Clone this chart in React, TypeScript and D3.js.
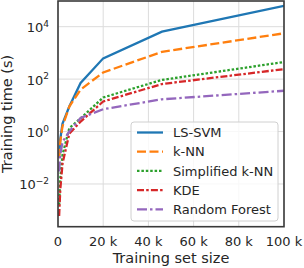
import React, { useEffect, useRef } from 'react';
import * as d3 from 'd3';

const sizes = [500, 1000, 2000, 5000, 10000, 20000, 46000, 100000];
const lsSvm = [0.1, 0.5, 2, 9, 71, 620, 6500, 62000];
const knn = [0.1, 0.4, 1.6, 9, 40, 180, 1100, 5600];
const simplifiedKnn = [0.0016, 0.016, 0.13, 1.35, 3.2, 20, 93, 450];
const kde = [0.0006, 0.006, 0.06, 0.83, 2.4, 14, 65, 240];
const randomForest = [0.03, 0.13, 0.4, 1.0, 3.3, 7.1, 17, 36];

const seriesNames = ['LS-SVM', 'k-NN', 'Simplified k-NN', 'KDE', 'Random Forest'];
const xTicks = [0, 20000, 40000, 60000, 80000, 100000];
const xTickLabels = ['0', '20 k', '40 k', '60 k', '80 k', '100 k'];
const yTicks = [1e-2, 1, 1e2, 1e4];
const yTickExps = ['\u22122', '0', '2', '4'];

const colors = ['#1f77b4', '#ff7f0e', '#2ca02c', '#d62728', '#9467bd'];
const dashes = ['none', '9,3.5', '2.5,1.9', '7,2.2,2.5,2.2', '10,3,2.5,3'];

const W = 304, H = 268;
const plot = { left: 58, right: 284, top: 1, bottom: 226.7 };

export default function App() {
  const ref = useRef<SVGSVGElement>(null);

  useEffect(() => {
    const svg = d3.select(ref.current);
    svg.selectAll('*').remove();
    const font = '"DejaVu Sans", sans-serif';

    const x = d3.scaleLinear().domain([0, 100000]).range([plot.left, plot.right]);
    const y = d3.scaleLog().domain([Math.pow(10, -3.63), Math.pow(10, 4.98)]).range([plot.bottom, plot.top]);

    svg.append('defs').append('clipPath').attr('id', 'clip')
      .append('rect')
      .attr('x', plot.left).attr('y', plot.top)
      .attr('width', plot.right - plot.left).attr('height', plot.bottom - plot.top);

    // grid
    const grid = svg.append('g');
    grid.selectAll('line.gx').data(xTicks).enter().append('line')
      .attr('x1', d => x(d)).attr('x2', d => x(d))
      .attr('y1', plot.top).attr('y2', plot.bottom)
      .attr('stroke', '#dcdcdc').attr('stroke-width', 1);
    grid.selectAll('line.gy').data(yTicks).enter().append('line')
      .attr('y1', d => y(d)).attr('y2', d => y(d))
      .attr('x1', plot.left).attr('x2', plot.right)
      .attr('stroke', '#dcdcdc').attr('stroke-width', 1);

    // lines
    const allSeries = [lsSvm, knn, simplifiedKnn, kde, randomForest];
    const line = d3.line<number>()
      .x((d, i) => x(sizes[i]))
      .y(d => y(d));
    const lines = svg.append('g').attr('clip-path', 'url(#clip)');
    allSeries.forEach((s, i) => {
      lines.append('path')
        .attr('d', line(s))
        .attr('fill', 'none')
        .attr('stroke', colors[i])
        .attr('stroke-width', 2.3)
        .attr('stroke-dasharray', dashes[i]);
    });

    // frame
    svg.append('rect')
      .attr('x', plot.left).attr('y', plot.top)
      .attr('width', plot.right - plot.left).attr('height', plot.bottom - plot.top)
      .attr('fill', 'none').attr('stroke', '#3a3a3a').attr('stroke-width', 1.6);

    // x tick labels
    svg.append('g').selectAll('text').data(xTicks).enter().append('text')
      .attr('x', d => x(d)).attr('y', 246)
      .attr('text-anchor', 'middle')
      .attr('font-family', font).attr('font-size', 13).attr('fill', '#262626')
      .text((d, i) => xTickLabels[i]);

    // y tick labels
    const yl = svg.append('g').selectAll('text').data(yTicks).enter().append('text')
      .attr('x', 49).attr('y', d => y(d) + 5.5)
      .attr('text-anchor', 'end')
      .attr('font-family', font).attr('font-size', 13).attr('fill', '#262626');
    yl.append('tspan').text('10');
    yl.append('tspan').attr('dy', -5.5).attr('font-size', 9).text((d, i) => yTickExps[i]);

    // axis labels
    svg.append('text')
      .attr('x', (plot.left + plot.right) / 2).attr('y', 263)
      .attr('text-anchor', 'middle')
      .attr('font-family', font).attr('font-size', 14.5).attr('fill', '#262626')
      .text('Training set size');
    svg.append('text')
      .attr('transform', `translate(12,${(plot.top + plot.bottom) / 2}) rotate(-90)`)
      .attr('text-anchor', 'middle')
      .attr('font-family', font).attr('font-size', 14.5).attr('fill', '#262626')
      .text('Training time (s)');

    // legend
    const lg = svg.append('g');
    lg.append('rect')
      .attr('x', 131).attr('y', 122).attr('width', 147).attr('height', 99)
      .attr('rx', 3)
      .attr('fill', 'white').attr('fill-opacity', 0.8)
      .attr('stroke', '#d0d0d0').attr('stroke-width', 1);
    seriesNames.forEach((name, i) => {
      const cy = 132.5 + i * 19.2;
      lg.append('line')
        .attr('x1', 137).attr('x2', 163).attr('y1', cy).attr('y2', cy)
        .attr('stroke', colors[i]).attr('stroke-width', 2.3)
        .attr('stroke-dasharray', dashes[i]);
      lg.append('text')
        .attr('x', 173).attr('y', cy + 4.6)
        .attr('font-family', font).attr('font-size', 13).attr('fill', '#262626')
        .text(name);
    });
  }, []);

  return (
    <svg ref={ref} width={W} height={H} style={{ position: 'absolute', left: 0, top: 0, background: 'white' }} />
  );
}
